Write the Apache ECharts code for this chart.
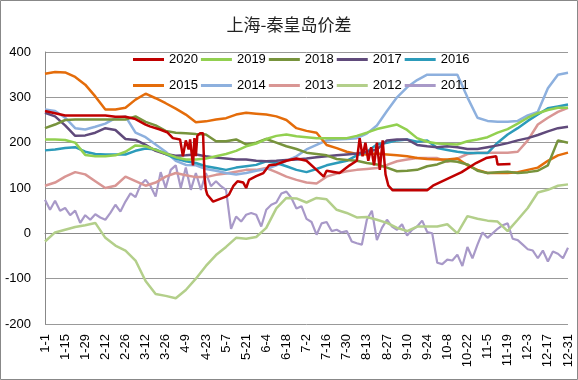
<!DOCTYPE html>
<html><head><meta charset="utf-8">
<script src="https://cdn.jsdelivr.net/npm/echarts/dist/echarts.min.js"></script>
<style>html,body{margin:0;padding:0;background:#fff}#c{width:578px;height:380px}</style>
</head><body><div id="c"></div>
<script>
// x positions are day offsets from Jan 1 (non-leap year)
const weekDays = [0,7,14,21,28,35,42,49,56,63,70,77,84,91,98,105,112,119,126,133,140,147,154,161,168,175,182,189,196,203,210,217,224,231,238,245,252,259,266,273,280,287,294,301,308,315,322,329,336,343,350,357,364];
const days2011 = Array.from({length:105}, (_, i) => i * 3.5);
const days2020 = [0,7,14,21,28,35,42,49,56,63,70,73,80,85,89,94,96,98,100,101,103,104,105,106,108,110,111,112,113,117,121,126,128,131,134,138,140,142,147,152,156,161,168,175,182,189,194,196,205,212,217,219,221,223,225,227,229,231,233,235,237,239,242,252,266,270,280,290,300,307,314,315,324];

const v2020 = [270,265,260,260,260,260,260,257,257,252,240,236,229,223,210,207,170,205,185,207,150,210,170,215,221,221,126,96,85,70,75,81,85,104,115,112,100,118,126,133,150,152,160,165,160,140,125,138,133,150,160,210,170,200,160,190,150,200,140,205,130,105,95,95,95,105,120,135,155,166,170,152,153];
const v2019 = [207,207,206,200,173,170,170,172,180,194,192,184,176,168,163,163,165,170,175,182,192,198,208,215,218,214,212,210,210,210,210,215,222,230,235,240,228,210,202,198,197,196,203,207,212,222,230,242,255,265,272,277,277];
const v2018 = [232,240,250,251,251,251,251,251,251,258,246,238,226,222,221,219,218,203,203,207,196,200,208,200,192,186,178,175,172,164,162,160,155,152,145,137,138,140,148,152,160,158,152,138,133,135,136,133,135,138,150,205,200];
const v2017 = [266,258,238,215,216,222,232,228,208,206,195,182,175,171,172,174,170,167,165,163,163,160,159,160,162,163,165,168,170,172,174,176,180,185,205,207,207,195,192,190,192,190,186,186,190,194,199,205,210,217,225,232,235];
const v2016 = [183,185,188,190,180,175,174,174,174,182,187,185,175,165,159,155,148,144,140,145,148,151,159,155,148,140,135,142,150,155,160,172,180,196,200,205,207,202,205,188,184,180,177,177,177,200,218,232,248,262,276,280,284];
const v2015 = [352,356,355,345,328,302,273,273,277,295,308,298,287,275,262,245,247,251,254,262,266,264,262,258,250,232,226,222,195,188,180,175,174,176,174,172,170,166,164,163,163,165,150,140,133,133,133,135,140,145,160,172,178];
const v2014 = [273,270,255,232,229,235,242,254,258,222,212,196,180,160,151,150,142,138,133,130,133,138,142,150,160,170,185,195,205,207,208,210,220,238,270,300,322,338,350,350,350,350,300,255,248,246,246,248,260,268,320,350,354];
const v2013 = [105,112,125,135,130,115,100,105,125,115,105,112,125,133,128,124,124,129,132,136,140,140,144,135,125,118,112,110,125,132,137,140,142,144,151,159,163,166,166,166,158,165,175,178,178,178,178,180,205,240,255,268,277];
const v2012 = [-18,2,8,14,18,23,-10,-27,-38,-60,-105,-134,-138,-143,-125,-100,-72,-48,-30,-10,-12,-8,12,55,78,77,68,78,75,52,45,35,36,30,23,12,5,15,15,15,20,0,38,32,28,26,5,30,56,90,96,105,108];
const v2011 = [74,52,72,50,56,40,50,23,40,30, 42,35,30,45,63,48,70,88,80,107, 118,104,81,135,100,140,150,100,145,96, 133,96,133,104,115,104,96,10,37,26, 41,45,41,15,52,63,68,88,92,78, 55,60,32,25,-3,22,25,5,8,2, 5,-18,-22,-25,30,50,-15,12,30,15, 8,20,-5,8,15,28,3,0,-65,-68, -58,-60,-47,-72,-30,-55,-25,2,-10,0, 10,18,22,-12,-15,-25,-35,-38,-55,-38, -62,-40,-45,-55,-32];

const names1 = ['2020','2019','2018','2017','2016'];
const names2 = ['2015','2014','2013','2012','2011'];
const yTicks = [-200,-100,0,100,200,300,400];

const colors = {'2020':'#C00000','2019':'#92D050','2018':'#77933C','2017':'#604A7B','2016':'#2C9BBA',
  '2015':'#E46C0A','2014':'#8DB0DE','2013':'#D99694','2012':'#B3CF8A','2011':'#A899C8'};

function pairs(xs, ys){ return xs.map((x,i)=>[x, ys[i]]); }
const seriesData = {
  '2011': pairs(days2011, v2011), '2012': pairs(weekDays, v2012), '2013': pairs(weekDays, v2013),
  '2014': pairs(weekDays, v2014), '2015': pairs(weekDays, v2015), '2016': pairs(weekDays, v2016),
  '2017': pairs(weekDays, v2017), '2018': pairs(weekDays, v2018), '2019': pairs(weekDays, v2019),
  '2020': pairs(days2020, v2020)
};
const order = ['2011','2012','2013','2014','2015','2016','2017','2018','2019','2020'];
const series = order.map(n => ({
  name: n, type: 'line', data: seriesData[n], showSymbol: false, symbol: 'none',
  lineStyle: {width: n==='2011' ? 2.2 : 2.5, color: colors[n]}, itemStyle: {color: colors[n]},
  animation: false
}));

function dayLabel(d){
  const dt = new Date(2021, 0, 1 + Math.round(d));
  return (dt.getMonth()+1) + '-' + dt.getDate();
}

const font = 'Liberation Sans, Arial, sans-serif';
const legendBase = {
  icon: 'rect', itemWidth: 31, itemHeight: 3, itemGap: 3,
  textStyle: {fontSize: 13, color: '#000', fontFamily: font}
};
const chart = echarts.init(document.getElementById('c'));
chart.setOption({
  animation: false,
  backgroundColor: '#fff',
  title: {text: '上海-秦皇岛价差', left: 'center', top: 11,
    textStyle: {fontSize: 17, fontWeight: 'normal', color: '#222', fontFamily: 'Noto Sans CJK SC'}},
  legend: [
    Object.assign({}, legendBase, {data: names1, left: 128, top: 48}),
    Object.assign({}, legendBase, {data: names2, left: 128, top: 74})
  ],
  grid: {left: 45, right: 10, top: 52, bottom: 56},
  xAxis: {
    type: 'value', min: 0, max: 364, interval: 14,
    axisLine: {show: true, lineStyle: {color: '#888'}},
    axisTick: {show: false},
    splitLine: {show: false},
    axisLabel: {rotate: 90, margin: 10, fontSize: 13, color: '#000', fontFamily: font, formatter: dayLabel}
  },
  yAxis: {
    type: 'value', min: yTicks[0], max: yTicks[yTicks.length-1], interval: 100,
    axisLine: {show: true, lineStyle: {color: '#888'}},
    axisTick: {show: false},
    splitLine: {show: true, lineStyle: {color: '#999', width: 1}},
    axisLabel: {margin: 14, fontSize: 13, color: '#000', fontFamily: font}
  },
  graphic: [{type: 'rect', shape: {x: 0.5, y: 0.5, width: 577, height: 379},
    style: {fill: 'none', stroke: '#888', lineWidth: 1}, silent: true, z: 100}],
  series: series
});
</script></body></html>
